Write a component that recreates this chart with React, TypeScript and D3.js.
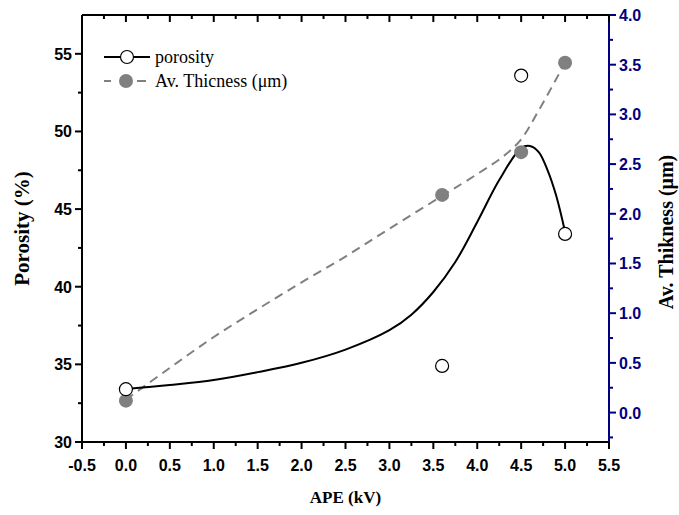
import React from "react";
import * as d3 from "d3";

const porosityX = [0, 3.6, 4.5, 5.0];
const porosityY = [33.4, 34.9, 53.6, 43.4];
const thickX = [0, 3.6, 4.5, 5.0];
const thickY = [0.12, 2.19, 2.62, 3.52];

const porFitX = [0, 0.5, 1.0, 1.5, 2.0, 2.5, 3.0, 3.25, 3.5, 3.75, 4.0, 4.25, 4.5, 4.6, 4.7, 4.8, 4.9, 5.0];
const porFitY = [33.41, 33.67, 33.99, 34.5, 35.1, 35.95, 37.2, 38.2, 39.66, 41.59, 44.17, 46.87, 48.93, 49.06, 48.67, 47.51, 45.84, 43.52];
const thkFitX = [0, 0.5, 1.0, 1.5, 2.0, 2.5, 3.0, 3.6, 4.0, 4.3, 4.5, 4.7, 5.0];
const thkFitY = [0.13, 0.45, 0.76, 1.04, 1.31, 1.57, 1.85, 2.18, 2.4, 2.58, 2.75, 3.04, 3.52];

const xTicks = [-0.5, 0, 0.5, 1, 1.5, 2, 2.5, 3, 3.5, 4, 4.5, 5, 5.5];
const yLeftTicks = [30, 35, 40, 45, 50, 55];
const yRightTicks = [0, 0.5, 1, 1.5, 2, 2.5, 3, 3.5, 4];

const W = 679, H = 515;
const L = 82, R = 609, T = 15, B = 442;
const NAVY = "#000080";
const GRAY = "#808080";

export default function App() {
  const x = d3.scaleLinear().domain([-0.5, 5.5]).range([L, R]);
  const yL = d3.scaleLinear().domain([30, 57.5]).range([B, T]);
  const yR = d3.scaleLinear().domain([-0.296, 4.0]).range([B, T]);

  const porLine = d3.line<number>().x((_, i) => x(porFitX[i])).y((d) => yL(d)).curve(d3.curveCatmullRom.alpha(0.5));
  const thkLine = d3.line<number>().x((_, i) => x(thkFitX[i])).y((d) => yR(d)).curve(d3.curveCatmullRom.alpha(0.5));

  const xMinor = d3.range(-0.25, 5.5, 0.5);
  const yLMinor = d3.range(32.5, 57.5, 5);
  const yRMinor = d3.range(-0.25, 4.0, 0.5).filter((v) => v > -0.29);

  const tickFont = { fontFamily: "Arial, 'Liberation Sans', sans-serif", fontWeight: 700, fontSize: 16 };
  const titleFont = { fontFamily: "'Times New Roman', 'Liberation Serif', serif", fontWeight: 700 };

  return (
    <svg width={W} height={H} style={{ position: "absolute", left: 0, top: 0, background: "#fff" }}>
      {/* fitted curves */}
      <path d={thkLine(thkFitY) || ""} fill="none" stroke={GRAY} strokeWidth={2} strokeDasharray="9,6" />
      <path d={porLine(porFitY) || ""} fill="none" stroke="#000" strokeWidth={2} />

      {/* markers */}
      {thickX.map((v, i) => (
        <circle key={"t" + i} cx={x(v)} cy={yR(thickY[i])} r={7} fill={GRAY} />
      ))}
      {porosityX.map((v, i) => (
        <circle key={"p" + i} cx={x(v)} cy={yL(porosityY[i])} r={6.5} fill="#fff" stroke="#000" strokeWidth={1.2} />
      ))}

      {/* frame */}
      <line x1={L} x2={R} y1={T} y2={T} stroke="#000" strokeWidth={2} />
      <line x1={L} x2={R} y1={B} y2={B} stroke="#000" strokeWidth={2} />
      <line x1={L} x2={L} y1={T} y2={B} stroke="#000" strokeWidth={2} />
      <line x1={R} x2={R} y1={T} y2={B + 1} stroke={NAVY} strokeWidth={2} />

      {/* bottom axis ticks */}
      {xTicks.map((v) => (
        <g key={"xb" + v}>
          <line x1={x(v)} x2={x(v)} y1={B} y2={B + 7} stroke="#000" strokeWidth={2} />
          <line x1={x(v)} x2={x(v)} y1={T} y2={T + 7} stroke="#000" strokeWidth={2} />
          <text x={x(v)} y={B + 29} textAnchor="middle" {...tickFont}>{v.toFixed(1)}</text>
        </g>
      ))}
      {xMinor.map((v) => (
        <g key={"xm" + v}>
          <line x1={x(v)} x2={x(v)} y1={B} y2={B + 4} stroke="#000" strokeWidth={2} />
          <line x1={x(v)} x2={x(v)} y1={T} y2={T + 4} stroke="#000" strokeWidth={2} />
        </g>
      ))}

      {/* left axis */}
      {yLeftTicks.map((v) => (
        <g key={"yl" + v}>
          <line x1={L - 7} x2={L} y1={yL(v)} y2={yL(v)} stroke="#000" strokeWidth={2} />
          <text x={L - 10} y={yL(v) + 6} textAnchor="end" {...tickFont}>{v}</text>
        </g>
      ))}
      {yLMinor.map((v) => (
        <line key={"ylm" + v} x1={L - 4} x2={L} y1={yL(v)} y2={yL(v)} stroke="#000" strokeWidth={2} />
      ))}

      {/* right axis */}
      {yRightTicks.map((v) => (
        <g key={"yr" + v}>
          <line x1={R} x2={R + 7} y1={yR(v)} y2={yR(v)} stroke={NAVY} strokeWidth={2} />
          <text x={R + 10} y={yR(v) + 6} textAnchor="start" fill={NAVY} {...tickFont}>{v.toFixed(1)}</text>
        </g>
      ))}
      {yRMinor.map((v) => (
        <line key={"yrm" + v} x1={R} x2={R + 4} y1={yR(v)} y2={yR(v)} stroke={NAVY} strokeWidth={2} />
      ))}

      {/* axis titles */}
      <text x={(L + R) / 2} y={503} textAnchor="middle" fontSize={17} {...titleFont}>APE (kV)</text>
      <text transform={`translate(29,${(T + B) / 2}) rotate(-90)`} textAnchor="middle" fontSize={21} {...titleFont}>Porosity (%)</text>
      <text transform={`translate(673,232) rotate(-90)`} textAnchor="middle" fontSize={20} {...titleFont}>Av. Thikness (μm)</text>

      {/* legend */}
      <line x1={104} x2={150} y1={57} y2={57} stroke="#000" strokeWidth={2} />
      <circle cx={127} cy={57} r={6.5} fill="#fff" stroke="#000" strokeWidth={1.2} />
      <text x={155} y={63} fontSize={18} fontFamily="'Times New Roman', 'Liberation Serif', serif">porosity</text>
      <line x1={104} x2={111} y1={81} y2={81} stroke={GRAY} strokeWidth={2} />
      <line x1={137} x2={146} y1={81} y2={81} stroke={GRAY} strokeWidth={2} />
      <circle cx={126} cy={81} r={7} fill={GRAY} />
      <text x={155} y={87} fontSize={18} fontFamily="'Times New Roman', 'Liberation Serif', serif">Av. Thicness (μm)</text>
    </svg>
  );
}
